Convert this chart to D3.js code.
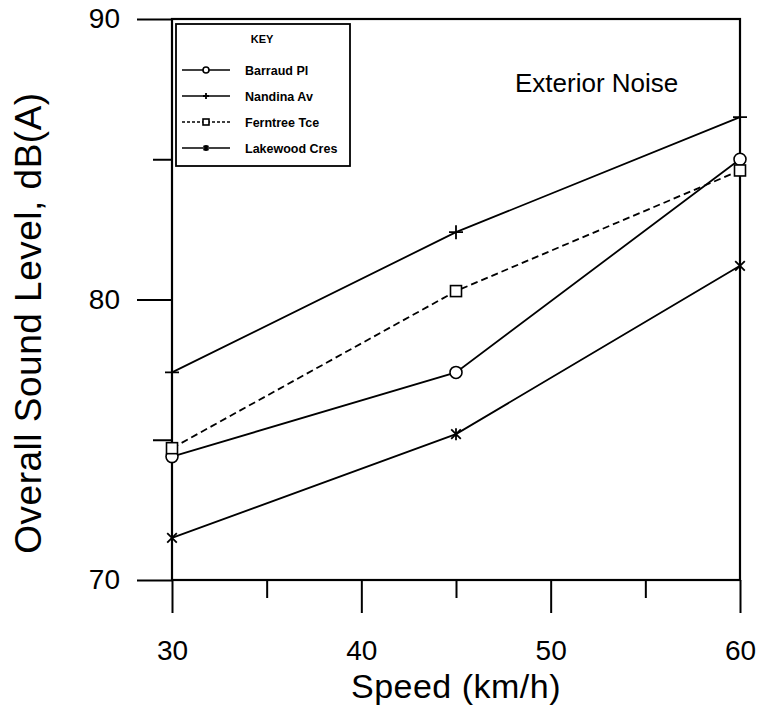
<!DOCTYPE html>
<html>
<head>
<meta charset="utf-8">
<script src="https://cdn.jsdelivr.net/npm/d3@7"></script>
<style>
  body { margin: 0; background: #fff; }
  text { font-family: "Liberation Sans", Arial, sans-serif; fill: #000; }
</style>
</head>
<body>
<script>
// data
var speeds = [30, 45, 60];
var seriesNames = ['Barraud Pl', 'Nandina Av', 'Ferntree Tce', 'Lakewood Cres'];
var barraud = [74.4, 77.4, 85.0];
var nandina = [77.4, 82.4, 86.5];
var ferntree = [74.7, 80.3, 84.6];
var lakewood = [71.5, 75.2, 81.2];
var xTicks = [30, 40, 50, 60];
var xMinor = [35, 45, 55];
var yTicks = [70, 80, 90];
var yMinor = [75, 85];

var width = 759, height = 709;
var plotLeft = 172, plotRight = 740, plotTop = 19, plotBottom = 580;

var x = d3.scaleLinear().domain([30, 60]).range([plotLeft, plotRight]);
var y = d3.scaleLinear().domain([70, 90]).range([plotBottom, plotTop]);

var svg = d3.select('body').append('svg')
  .attr('width', width)
  .attr('height', height);

// axes
svg.append('g')
  .attr('transform', 'translate(0,' + plotBottom + ')')
  .call(d3.axisBottom(x).tickValues(xTicks).tickSize(33).tickPadding(27).tickFormat(d3.format('d')));
svg.append('g')
  .attr('transform', 'translate(0,' + plotBottom + ')')
  .call(d3.axisBottom(x).tickValues(xMinor).tickSize(18).tickFormat(''));
svg.append('g')
  .attr('transform', 'translate(' + plotLeft + ',0)')
  .call(d3.axisLeft(y).tickValues(yTicks).tickSize(35).tickPadding(17).tickFormat(d3.format('d')));
svg.append('g')
  .attr('transform', 'translate(' + plotLeft + ',0)')
  .call(d3.axisLeft(y).tickValues(yMinor).tickSize(19).tickFormat(''));

svg.selectAll('.domain').remove();
svg.selectAll('.tick line').attr('stroke', '#000').attr('stroke-width', 2);
svg.selectAll('.tick text').style('font-size', '28px').style('font-family', '"Liberation Sans", Arial, sans-serif');

// frame
svg.append('rect')
  .attr('x', plotLeft).attr('y', plotTop)
  .attr('width', plotRight - plotLeft).attr('height', plotBottom - plotTop)
  .attr('fill', 'none').attr('stroke', '#000').attr('stroke-width', 2.2);

// axis titles
svg.append('text')
  .attr('x', 456).attr('y', 698)
  .attr('text-anchor', 'middle')
  .style('font-size', '34px')
  .style('letter-spacing', '0.5px')
  .text('Speed (km/h)');

svg.append('text')
  .attr('transform', 'translate(41,323) rotate(-90)')
  .attr('text-anchor', 'middle')
  .style('font-size', '37px')
  .style('letter-spacing', '0.5px')
  .text('Overall Sound Level, dB(A)');

svg.append('text')
  .attr('x', 515).attr('y', 92)
  .style('font-size', '26px')
  .text('Exterior Noise');

// markers
function marker(g, type, s) {
  if (type === 'circle') {
    g.append('circle').attr('r', s).attr('fill', '#fff').attr('stroke', '#000').attr('stroke-width', 1.6);
  } else if (type === 'square') {
    g.append('rect').attr('x', -s).attr('y', -s).attr('width', 2 * s).attr('height', 2 * s)
      .attr('fill', '#fff').attr('stroke', '#000').attr('stroke-width', 1.6);
  } else if (type === 'plus') {
    g.append('path').attr('d', 'M' + (-s) + ',0H' + s + 'M0,' + (-s) + 'V' + s)
      .attr('stroke', '#000').attr('stroke-width', 1.8);
  } else {
    var a = s * 0.8;
    g.append('path').attr('d', 'M' + (-a) + ',' + (-a) + 'L' + a + ',' + a + 'M' + (-a) + ',' + a + 'L' + a + ',' + (-a) + 'M0,' + (-s) + 'V' + s)
      .attr('stroke', '#000').attr('stroke-width', 1.8);
  }
}

var series = [
  { name: seriesNames[0], values: barraud, type: 'circle', dash: null, size: 6 },
  { name: seriesNames[1], values: nandina, type: 'plus', dash: null, size: 7 },
  { name: seriesNames[2], values: ferntree, type: 'square', dash: '7,4', size: 5.5 },
  { name: seriesNames[3], values: lakewood, type: 'star', dash: null, size: 6 }
];

var line = d3.line()
  .x(function(d, i) { return x(speeds[i]); })
  .y(function(d) { return y(d); });

series.forEach(function(s) {
  svg.append('path')
    .attr('d', line(s.values))
    .attr('fill', 'none')
    .attr('stroke', '#000')
    .attr('stroke-width', 1.8)
    .attr('stroke-dasharray', s.dash);
});

series.forEach(function(s) {
  s.values.forEach(function(v, i) {
    var g = svg.append('g').attr('transform', 'translate(' + x(speeds[i]) + ',' + y(v) + ')');
    marker(g, s.type, s.size);
  });
});

// legend
var legend = svg.append('g');
legend.append('rect')
  .attr('x', 176).attr('y', 24)
  .attr('width', 174).attr('height', 142)
  .attr('fill', '#fff').attr('stroke', '#000').attr('stroke-width', 1.8);
legend.append('text')
  .attr('x', 262).attr('y', 43)
  .attr('text-anchor', 'middle')
  .style('font-size', '11px').style('font-weight', 'bold')
  .text('KEY');

series.forEach(function(s, i) {
  var ly = 70 + i * 26;
  legend.append('line')
    .attr('x1', 182).attr('x2', 230).attr('y1', ly).attr('y2', ly)
    .attr('stroke', '#000').attr('stroke-width', 1.6)
    .attr('stroke-dasharray', s.dash ? '3,2' : null);
  var g = legend.append('g').attr('transform', 'translate(206,' + ly + ')');
  marker(g, s.type, 3);
  legend.append('text')
    .attr('x', 245).attr('y', ly + 4.5)
    .style('font-size', '12.5px').style('font-weight', 'bold')
    .text(s.name);
});
</script>
</body>
</html>
